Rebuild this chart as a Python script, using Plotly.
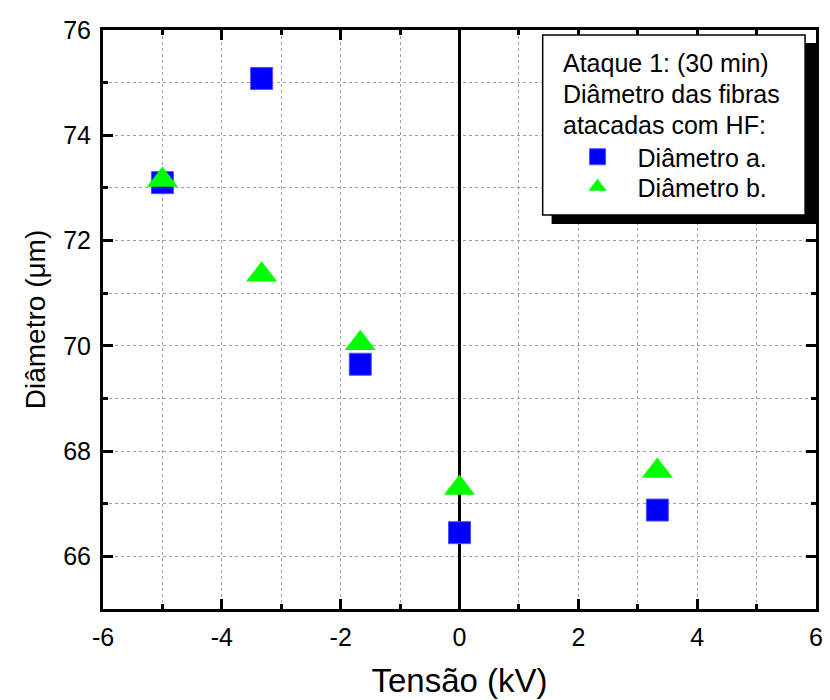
import plotly.graph_objects as go

tensao = [-5.0, -3.33, -1.67, 0.0, 3.33]
diam_a = [73.1, 75.08, 69.65, 66.45, 66.88]
diam_b = [73.15, 71.35, 70.05, 67.3, 67.62]
legend_lines = ["Ataque 1: (30 min)", "Diâmetro das fibras", "atacadas com HF:"]
series_names = ["Diâmetro a.", "Diâmetro b."]
x_ticks = [-6, -4, -2, 0, 2, 4, 6]
y_ticks = [66, 68, 70, 72, 74, 76]

FONT = "Liberation Sans, Arial, sans-serif"

fig = go.Figure()
fig.add_trace(go.Scatter(x=tensao, y=diam_a, mode="markers", name=series_names[0],
                         legend="legend",
                         marker=dict(symbol="square", size=22, color="#0000FF",
                                     line=dict(width=1, color="#5050FF"))))
fig.add_trace(go.Scatter(x=tensao, y=diam_b, mode="markers", name=series_names[1],
                         legend="legend2",
                         marker=dict(symbol="triangle-up", size=27, color="#00FF00",
                                     line=dict(width=0))))

W, H = 830, 700
L, R, T, B = 103, 7, 30, 91
pw, ph = W - L - R, H - T - B

def px(x):
    return (x - L) / pw

def py(y):
    return (H - B - y) / ph

axis_common = dict(
    showline=True, linecolor="black", linewidth=3, mirror="ticks",
    ticks="inside", ticklen=10, tickwidth=3, tickcolor="black",
    showgrid=True, gridcolor="#a0a0a0", griddash="dot", gridwidth=1,
    tickfont=dict(family=FONT, size=25, color="black"),
)
minor_common = dict(dtick=1, ticks="inside", ticklen=5, tickwidth=3, tickcolor="black",
                    showgrid=True, gridcolor="#a0a0a0", griddash="dot", gridwidth=1)

fig.update_xaxes(range=[-6, 6], tickvals=x_ticks, ticktext=[str(v) for v in x_ticks],
                 zeroline=True, zerolinecolor="black", zerolinewidth=3,
                 minor=minor_common,
                 title=dict(text="Tensão (kV)", font=dict(family=FONT, size=33, color="black"),
                            standoff=19),
                 ticklabelstandoff=4,
                 **axis_common)
fig.update_yaxes(range=[65, 76], tickvals=y_ticks, ticktext=[str(v) for v in y_ticks],
                 zeroline=False,
                 minor=minor_common,
                 title=dict(text="Diâmetro (μm)", font=dict(family=FONT, size=28, color="black"),
                            standoff=10),
                 ticklabelstandoff=4,
                 **axis_common)

shapes = [
    dict(type="rect", xref="paper", yref="paper", layer="above",
         x0=px(556), x1=px(824), y0=py(224), y1=py(43),
         fillcolor="black", line=dict(width=0)),
    dict(type="rect", xref="paper", yref="paper", layer="above",
         x0=px(547), x1=px(812), y0=py(215), y1=py(35),
         fillcolor="white", line=dict(color="black", width=1.5)),
]

line_centers = [63, 94, 125]
annotations = [dict(text=t, xref="paper", yref="paper", x=px(566), y=py(c),
                    xanchor="left", yanchor="middle", align="left", showarrow=False,
                    font=dict(family=FONT, size=25, color="black"))
               for t, c in zip(legend_lines, line_centers)]

leg_common = dict(xanchor="left", yanchor="middle", bgcolor="rgba(0,0,0,0)",
                  borderwidth=0, itemwidth=70,
                  font=dict(family=FONT, size=25, color="black"))

fig.update_layout(
    width=W, height=H,
    margin=dict(l=L, r=R, t=T, b=B, pad=0),
    paper_bgcolor="white", plot_bgcolor="white",
    shapes=shapes,
    annotations=annotations,
    legend=dict(x=px(562), y=py(157), **leg_common),
    legend2=dict(x=px(562), y=py(187), **leg_common),
    showlegend=True,
)

fig.write_html("out.html")
